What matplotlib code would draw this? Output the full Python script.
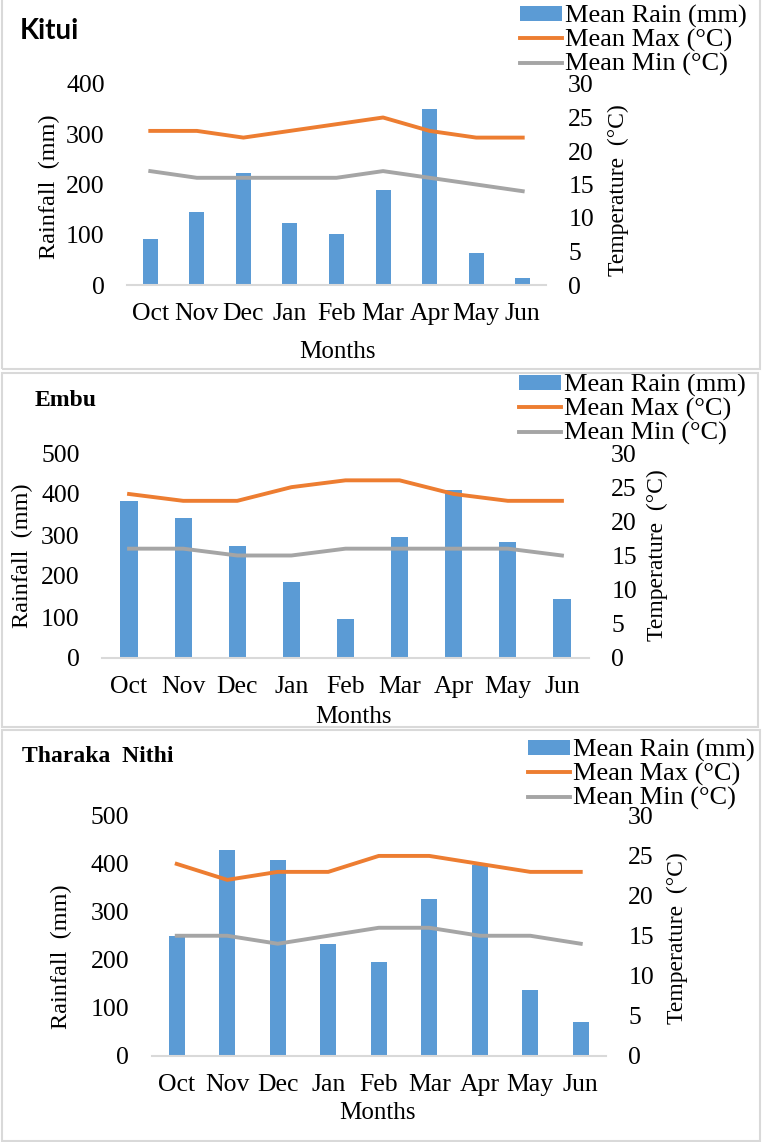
import matplotlib
matplotlib.use("Agg")
import matplotlib.pyplot as plt
from matplotlib.patches import Rectangle

months = ["Oct", "Nov", "Dec", "Jan", "Feb", "Mar", "Apr", "May", "Jun"]

kitui_rain = [92, 145, 223, 123, 101, 189, 350, 63, 13]
kitui_max = [23, 23, 22, 23, 24, 25, 23, 22, 22]
kitui_min = [17, 16, 16, 16, 16, 17, 16, 15, 14]

embu_rain = [384, 341, 272, 186, 96, 294, 410, 284, 144]
embu_max = [24, 23, 23, 25, 26, 26, 24, 23, 23]
embu_min = [16, 16, 15, 15, 16, 16, 16, 16, 15]

tharaka_rain = [250, 429, 409, 233, 196, 327, 397, 137, 70]
tharaka_max = [24, 22, 23, 23, 25, 25, 24, 23, 23]
tharaka_min = [15, 15, 14, 15, 16, 16, 15, 15, 14]

W, H = 765, 1142
BLUE = "#5B9BD5"
ORANGE = "#ED7D31"
GREY = "#A5A5A5"
SERIF = ["Liberation Serif", "DejaVu Serif"]

plt.rcParams["font.family"] = SERIF

fig = plt.figure(figsize=(W / 100, H / 100), dpi=100)


def fx(x):
    return x / W


def fy(y):
    return 1 - y / H


def panel(box, axbox, rain, tmax, tmin, rmax, title, title_kw, labels, leg):
    # grey frame round the panel
    x0, y0, x1, y1 = box
    fig.add_artist(Rectangle((fx(x0), fy(y1)), fx(x1 - x0), (y1 - y0) / H,
                             transform=fig.transFigure, fill=False,
                             edgecolor="#D9D9D9", lw=1.5))

    l, t, r, b = axbox
    ax = fig.add_axes([fx(l), fy(b), fx(r - l), (b - t) / H])
    xs = range(len(months))
    bars = ax.bar(xs, rain, width=0.32, color=BLUE, label="Mean Rain (mm)")
    ax.set_xlim(-0.5, len(months) - 0.5)
    ax.set_ylim(0, rmax)
    ax.set_yticks(range(0, rmax + 1, 100))
    ax.set_xticks(list(xs))
    ax.set_xticklabels(months)
    for s in ["top", "right", "left"]:
        ax.spines[s].set_visible(False)
    ax.spines["bottom"].set_color("#D9D9D9")
    ax.spines["bottom"].set_linewidth(1.5)
    ax.tick_params(length=0, labelsize=18.5, colors="black")
    ax.tick_params(axis="x", pad=13)
    ax.tick_params(axis="y", pad=16)

    ax2 = ax.twinx()
    l1, = ax2.plot(xs, tmax, color=ORANGE, lw=2.8, label="Mean Max (°C)")
    l2, = ax2.plot(xs, tmin, color=GREY, lw=2.8, label="Mean Min (°C)")
    ax2.set_ylim(0, 30)
    ax2.set_yticks(range(0, 31, 5))
    for s in ax2.spines.values():
        s.set_visible(False)
    ax2.tick_params(length=0, labelsize=18.5, pad=16)

    # title
    fig.text(fx(title[1]), fy(title[2]), title[0], ha="left", va="center",
             fontweight="bold", **title_kw)

    # axis titles
    (rx, ry), (tx, ty), (mx, my) = labels
    fig.text(fx(rx), fy(ry), "Rainfall  (mm)", rotation=90, ha="center",
             va="center", fontsize=17.5)
    fig.text(fx(tx), fy(ty), "Temperature  (°C)", rotation=90, ha="center",
             va="center", fontsize=17)
    fig.text(fx(mx), fy(my), "Months", ha="center", va="center", fontsize=18)

    # legend up in the right corner
    ax2.legend([bars, l1, l2], ["Mean Rain (mm)", "Mean Max (°C)", "Mean Min (°C)"],
               loc="upper left", bbox_to_anchor=(fx(leg[0]), fy(leg[1])),
               bbox_transform=fig.transFigure, frameon=False, fontsize=19,
               borderpad=0, borderaxespad=0, handlelength=1.6,
               handletextpad=0.1, labelspacing=0.04, handleheight=0.5)
    return ax


panel((2, -2, 760, 369), (127, 84, 546, 285),
      kitui_rain, kitui_max, kitui_min, 400,
      ("Kitui", 20, 31), {"family": ["Lato", "DejaVu Sans"], "fontsize": 20},
      ((49, 187), (618, 190), (337, 352)), (520, 5))

panel((2, 373, 758, 727), (102, 453, 589, 658),
      embu_rain, embu_max, embu_min, 500,
      ("Embu", 35, 400), {"fontsize": 17},
      ((22, 556), (657, 555), (353, 717)), (519, 374))

panel((2, 730, 760, 1141), (151.5, 816, 606, 1055.5),
      tharaka_rain, tharaka_max, tharaka_min, 500,
      ("Tharaka  Nithi", 22, 757), {"fontsize": 17},
      ((61, 957), (677, 938), (377, 1113)), (528, 739))

fig.savefig("out.png", dpi=100)
